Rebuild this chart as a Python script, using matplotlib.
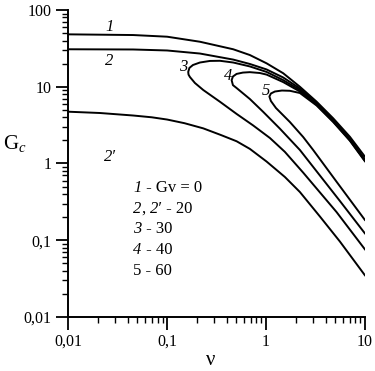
import numpy as np
import matplotlib.pyplot as plt
from matplotlib.ticker import FixedLocator, FixedFormatter, LogLocator, NullFormatter

plt.rcParams['font.family'] = ['Liberation Serif', 'DejaVu Serif']
plt.rcParams['mathtext.fontset'] = 'custom'
plt.rcParams['mathtext.rm'] = 'Liberation Serif'
plt.rcParams['mathtext.it'] = 'Liberation Serif:italic'

# Curve 1: Gv = 0
nu_1 = [0.01, 0.0454, 0.1, 0.2147, 0.466, 0.687, 1.014, 1.493, 2.202, 3.249, 4.781, 7.052, 10]
G_1 = [48.2, 47.2, 44.9, 38.6, 30.8, 25.9, 20.2, 15.0, 10.0, 6.39, 3.88, 2.23, 1.23]

# Curve 2: Gv = 20, upper solution
nu_2 = [0.01, 0.0454, 0.1, 0.2147, 0.466, 0.687, 1.014, 1.493, 2.202, 3.249, 4.781, 7.052, 10]
G_2 = [30.8, 30.6, 29.7, 27.1, 22.6, 19.8, 16.8, 13.2, 9.49, 6.14, 3.69, 2.09, 1.13]

# Curve 2': Gv = 20, lower solution
nu_2p = [0.01, 0.0209, 0.0454, 0.07, 0.1, 0.15, 0.232, 0.35, 0.504, 0.687, 1.014,
         1.553, 2.202, 3.508, 5.587, 10]
G_2p = [4.73, 4.55, 4.22, 4.0, 3.74, 3.35, 2.87, 2.35, 1.95, 1.55, 1.06,
        0.667, 0.425, 0.204, 0.0963, 0.035]

# Curve 3: Gv = 30 (lower branch end -> turning point -> upper branch end)
nu_3 = [10, 5.17, 2.38, 1.55, 1.095, 0.742, 0.505, 0.342, 0.232, 0.191, 0.170, 0.1646, 0.1634,
        0.168, 0.1824, 0.2147, 0.271, 0.342, 0.466, 0.687, 1.014, 1.493, 2.202, 3.249, 4.781, 7.052, 10]
G_3 = [0.0762, 0.233, 0.759, 1.42, 2.15, 3.13, 4.42, 6.38, 9.07, 11.2, 13.4, 14.4, 15.6,
       17.6, 19.2, 20.7, 21.7, 21.8, 20.7, 18.4, 15.6, 12.2, 9.07, 5.96, 3.60, 2.04, 1.11]

# Curve 4: Gv = 40
nu_4 = [10, 5.587, 3.508, 2.202, 1.38, 0.938, 0.687, 0.504, 0.463, 0.449,
        0.463, 0.504, 0.584, 0.687, 0.868, 1.014, 1.493, 2.202, 3.249, 4.781, 7.052, 10]
G_4 = [0.123, 0.325, 0.698, 1.5, 2.85, 4.7, 6.92, 9.63, 10.5, 12.2,
       13.6, 14.7, 15.3, 15.5, 15.1, 14.4, 11.5, 8.67, 5.82, 3.53, 2.01, 1.09]

# Curve 5: Gv = 60
nu_5 = [10, 5.17, 3.0, 2.38, 1.745, 1.26, 1.121, 1.082,
        1.121, 1.23, 1.448, 1.745, 2.202, 3.249, 4.781, 7.052, 10]
G_5 = [0.184, 0.579, 1.5, 2.21, 3.47, 5.29, 6.52, 7.46,
       8.17, 8.67, 8.93, 8.86, 8.29, 5.70, 3.47, 1.98, 1.07]

fig = plt.figure(figsize=(3.75, 3.71), dpi=100)
ax = fig.add_axes([0.182, 0.1456, 0.791, 0.8274])

for nu, G in [(nu_1, G_1), (nu_2, G_2), (nu_2p, G_2p), (nu_3, G_3), (nu_4, G_4), (nu_5, G_5)]:
    ax.plot(nu, G, color='black', linewidth=1.4, solid_joinstyle='round')

ax.set_xscale('log')
ax.set_yscale('log')
ax.set_xlim(0.01, 10)
ax.set_ylim(0.01, 100)

ax.spines['top'].set_visible(False)
ax.spines['right'].set_visible(False)
ax.spines['left'].set_linewidth(1.4)
ax.spines['bottom'].set_linewidth(1.4)

ax.xaxis.set_major_locator(FixedLocator([0.01, 0.1, 1, 10]))
ax.xaxis.set_major_formatter(FixedFormatter(['0,01', '0,1', '1', '10']))
ax.yaxis.set_major_locator(FixedLocator([0.01, 0.1, 1, 10, 100]))
ax.yaxis.set_major_formatter(FixedFormatter(['0,01', '0,1', '1', '10', '100']))
ax.xaxis.set_minor_locator(LogLocator(base=10, subs=np.arange(2, 10), numticks=20))
ax.yaxis.set_minor_locator(LogLocator(base=10, subs=np.arange(2, 10), numticks=20))
ax.xaxis.set_minor_formatter(NullFormatter())
ax.yaxis.set_minor_formatter(NullFormatter())
ax.tick_params(which='major', direction='out', length=9, width=1.3, labelsize=11.5, pad=3)
ax.tick_params(which='minor', direction='out', length=4.5, width=1.0)

ax.set_xlabel('ν', fontsize=15)
ax.xaxis.set_label_coords(0.48, -0.11)
ax.set_ylabel(r'G$_{\mathit{c}}$', fontsize=15, rotation=0)
ax.yaxis.set_label_coords(-0.18, 0.53)


def rich(x, y, parts, size=12):
    # parts: list of (text, italic?) drawn one after another on one baseline
    s, it = parts[0]
    t = ax.text(x, y, s, transform=ax.transAxes, fontsize=size, va='center',
                style='italic' if it else 'normal')
    for s, it in parts[1:]:
        t = ax.annotate(s, xy=(1, 0), xycoords=t, va='bottom', ha='left',
                        fontsize=size, style='italic' if it else 'normal')


# curve labels (italic numbers)
ax.text(0.0264, 60, '1', fontsize=12, style='italic', ha='center', va='center')
ax.text(0.026, 21.9, '2', fontsize=12, style='italic', ha='center', va='center')
ax.text(0.0264, 1.23, '2′', fontsize=12, style='italic', ha='center', va='center')
ax.text(0.146, 18.2, '3', fontsize=12, style='italic', ha='center', va='center')
ax.text(0.415, 13.8, '4', fontsize=12, style='italic', ha='center', va='center')
ax.text(0.99, 8.9, '5', fontsize=12, style='italic', ha='center', va='center')

legend_lines = [
    [('1', True), (' - Gv = 0', False)],
    [('2', True), (', ', False), ('2′', True), (' - 20', False)],
    [('3', True), (' - 30', False)],
    [('4', True), (' - 40', False)],
    [('5 - 60', False)],
]
for i, parts in enumerate(legend_lines):
    rich(0.219, 0.419 - 0.067 * i, parts)

fig.savefig('out.png', dpi=100)
